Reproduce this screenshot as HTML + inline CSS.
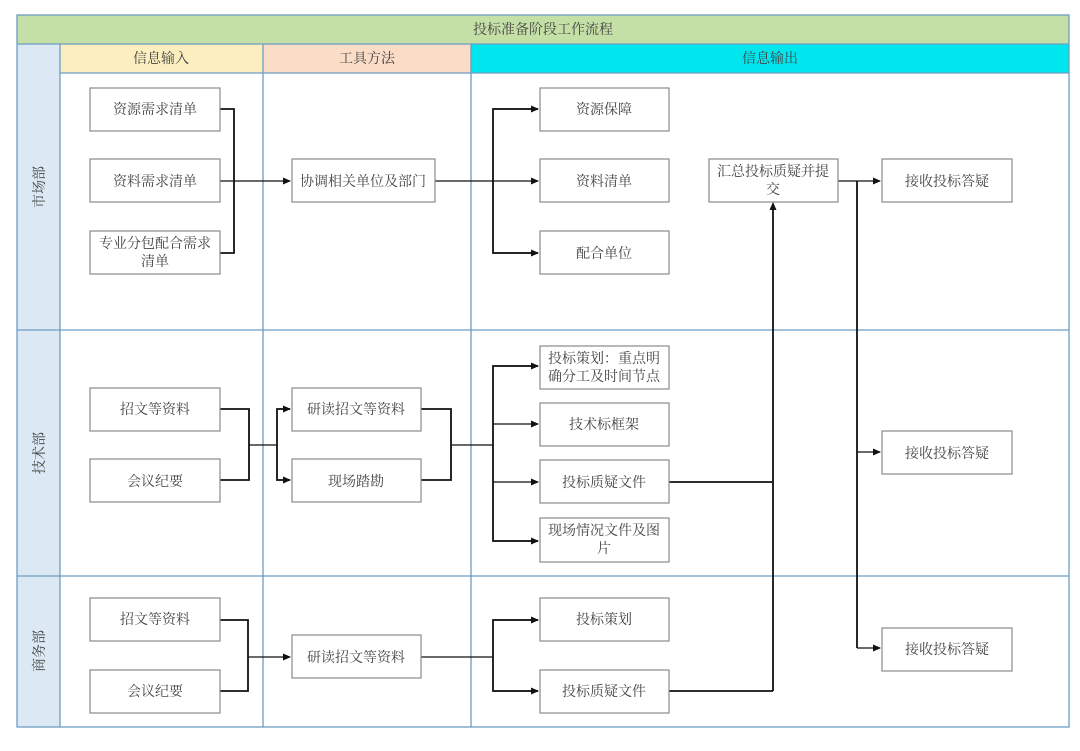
<!DOCTYPE html>
<html><head><meta charset="utf-8"><style>
html,body{margin:0;padding:0;background:#fff;}
svg{display:block;}
text{font-family:"Liberation Serif","Noto Serif CJK SC","Noto Sans CJK SC",serif;font-size:14px;fill:#444;}
.b{fill:#fff;stroke:#8a8a8a;stroke-width:1.2;}
.c{fill:none;stroke:#111;stroke-width:1.8;}
.t{fill:none;stroke:#111;stroke-width:1.2;}
.g{stroke:#6d9dc2;stroke-width:1.3;fill:none;}
</style></head><body>
<svg width="1080" height="751" viewBox="0 0 1080 751" xmlns="http://www.w3.org/2000/svg">
<defs><marker id="a" markerWidth="8" markerHeight="8" refX="7" refY="4" orient="auto" markerUnits="userSpaceOnUse"><path d="M0,0.5 L8,4 L0,7.5z" fill="#111"/></marker></defs>
<rect x="17" y="15" width="1052" height="29" fill="#c5e0a6"/>
<rect x="17" y="44" width="43" height="683" fill="#dce9f5"/>
<rect x="60" y="44" width="203" height="29" fill="#fdeec0"/>
<rect x="263" y="44" width="208" height="29" fill="#fbdcc7"/>
<rect x="471" y="44" width="598" height="29" fill="#00e6ee"/>
<rect x="17" y="15" width="1052" height="712" class="g"/>
<line x1="17" y1="44" x2="1069" y2="44" class="g"/>
<line x1="60" y1="73" x2="1069" y2="73" class="g"/>
<line x1="60" y1="44" x2="60" y2="727" class="g"/>
<line x1="263" y1="44" x2="263" y2="727" class="g"/>
<line x1="471" y1="44" x2="471" y2="727" class="g"/>
<line x1="17" y1="330" x2="1069" y2="330" class="g"/>
<line x1="17" y1="576" x2="1069" y2="576" class="g"/>
<text x="543" y="34" text-anchor="middle">投标准备阶段工作流程</text>
<text x="161" y="63" text-anchor="middle">信息输入</text>
<text x="367" y="63" text-anchor="middle">工具方法</text>
<text x="770" y="63" text-anchor="middle">信息输出</text>
<text transform="translate(44,187) rotate(-90)" text-anchor="middle">市场部</text>
<text transform="translate(44,453) rotate(-90)" text-anchor="middle">技术部</text>
<text transform="translate(44,651) rotate(-90)" text-anchor="middle">商务部</text>

<!-- connectors -->
<path class="c" d="M220,109 H234 V253 H220"/>
<path class="t" d="M220,181 H290" marker-end="url(#a)"/>
<path class="t" d="M435,181 H538" marker-end="url(#a)"/>
<path class="c" d="M538,109 H493 V253 H538"/>
<path class="t" d="M493,109 H538" marker-end="url(#a)"/>
<path class="t" d="M493,253 H538" marker-end="url(#a)"/>
<path class="t" d="M838,181 H880" marker-end="url(#a)"/>
<path class="c" d="M857,181 V648"/>
<path class="t" d="M857,452 H880" marker-end="url(#a)"/>
<path class="t" d="M857,648 H880" marker-end="url(#a)"/>
<path class="c" d="M773,691 V204"/>
<path class="t" d="M773,210 V203" marker-end="url(#a)"/>
<path class="c" d="M669,482 H773"/>
<path class="c" d="M669,691 H773"/>

<path class="c" d="M220,409 H249 V480 H220"/>
<path class="t" d="M249,445 H277"/>
<path class="c" d="M290,409 H277 V480 H290"/>
<path class="t" d="M277,409 H290" marker-end="url(#a)"/>
<path class="t" d="M277,480 H290" marker-end="url(#a)"/>
<path class="c" d="M421,409 H451 V480 H421"/>
<path class="t" d="M451,445 H493"/>
<path class="c" d="M538,366 H493 V541 H538"/>
<path class="t" d="M493,366 H538" marker-end="url(#a)"/>
<path class="t" d="M493,424 H538" marker-end="url(#a)"/>
<path class="t" d="M493,482 H538" marker-end="url(#a)"/>
<path class="t" d="M493,541 H538" marker-end="url(#a)"/>

<path class="c" d="M220,620 H248 V691 H220"/>
<path class="t" d="M248,657 H290" marker-end="url(#a)"/>
<path class="t" d="M421,657 H493"/>
<path class="c" d="M538,620 H493 V691 H538"/>
<path class="t" d="M493,620 H538" marker-end="url(#a)"/>
<path class="t" d="M493,691 H538" marker-end="url(#a)"/>

<!-- boxes -->
<rect class="b" x="90" y="88" width="130" height="43"/><text x="155" y="114" text-anchor="middle">资源需求清单</text>
<rect class="b" x="90" y="159" width="130" height="43"/><text x="155" y="186" text-anchor="middle">资料需求清单</text>
<rect class="b" x="90" y="231" width="130" height="43"/><text x="155" y="248" text-anchor="middle">专业分包配合需求</text><text x="155" y="266" text-anchor="middle">清单</text>
<rect class="b" x="292" y="159" width="143" height="43"/><text x="363" y="186" text-anchor="middle">协调相关单位及部门</text>
<rect class="b" x="540" y="88" width="129" height="43"/><text x="604" y="114" text-anchor="middle">资源保障</text>
<rect class="b" x="540" y="159" width="129" height="43"/><text x="604" y="186" text-anchor="middle">资料清单</text>
<rect class="b" x="540" y="231" width="129" height="43"/><text x="604" y="258" text-anchor="middle">配合单位</text>
<rect class="b" x="709" y="159" width="129" height="43"/><text x="773" y="176" text-anchor="middle">汇总投标质疑并提</text><text x="773" y="194" text-anchor="middle">交</text>
<rect class="b" x="882" y="159" width="130" height="43"/><text x="947" y="186" text-anchor="middle">接收投标答疑</text>
<rect class="b" x="882" y="431" width="130" height="43"/><text x="947" y="458" text-anchor="middle">接收投标答疑</text>
<rect class="b" x="882" y="628" width="130" height="43"/><text x="947" y="654" text-anchor="middle">接收投标答疑</text>

<rect class="b" x="90" y="388" width="130" height="43"/><text x="155" y="414" text-anchor="middle">招文等资料</text>
<rect class="b" x="90" y="459" width="130" height="43"/><text x="155" y="486" text-anchor="middle">会议纪要</text>
<rect class="b" x="292" y="388" width="129" height="43"/><text x="356" y="414" text-anchor="middle">研读招文等资料</text>
<rect class="b" x="292" y="459" width="129" height="43"/><text x="356" y="486" text-anchor="middle">现场踏勘</text>
<rect class="b" x="540" y="346" width="129" height="43"/><text x="604" y="363" text-anchor="middle">投标策划：重点明</text><text x="604" y="381" text-anchor="middle">确分工及时间节点</text>
<rect class="b" x="540" y="403" width="129" height="43"/><text x="604" y="429" text-anchor="middle">技术标框架</text>
<rect class="b" x="540" y="460" width="129" height="43"/><text x="604" y="487" text-anchor="middle">投标质疑文件</text>
<rect class="b" x="540" y="518" width="129" height="44"/><text x="604" y="535" text-anchor="middle">现场情况文件及图</text><text x="604" y="553" text-anchor="middle">片</text>

<rect class="b" x="90" y="598" width="130" height="43"/><text x="155" y="624" text-anchor="middle">招文等资料</text>
<rect class="b" x="90" y="670" width="130" height="43"/><text x="155" y="696" text-anchor="middle">会议纪要</text>
<rect class="b" x="292" y="635" width="129" height="43"/><text x="356" y="662" text-anchor="middle">研读招文等资料</text>
<rect class="b" x="540" y="598" width="129" height="43"/><text x="604" y="624" text-anchor="middle">投标策划</text>
<rect class="b" x="540" y="670" width="129" height="43"/><text x="604" y="696" text-anchor="middle">投标质疑文件</text>
</svg>
</body></html>
